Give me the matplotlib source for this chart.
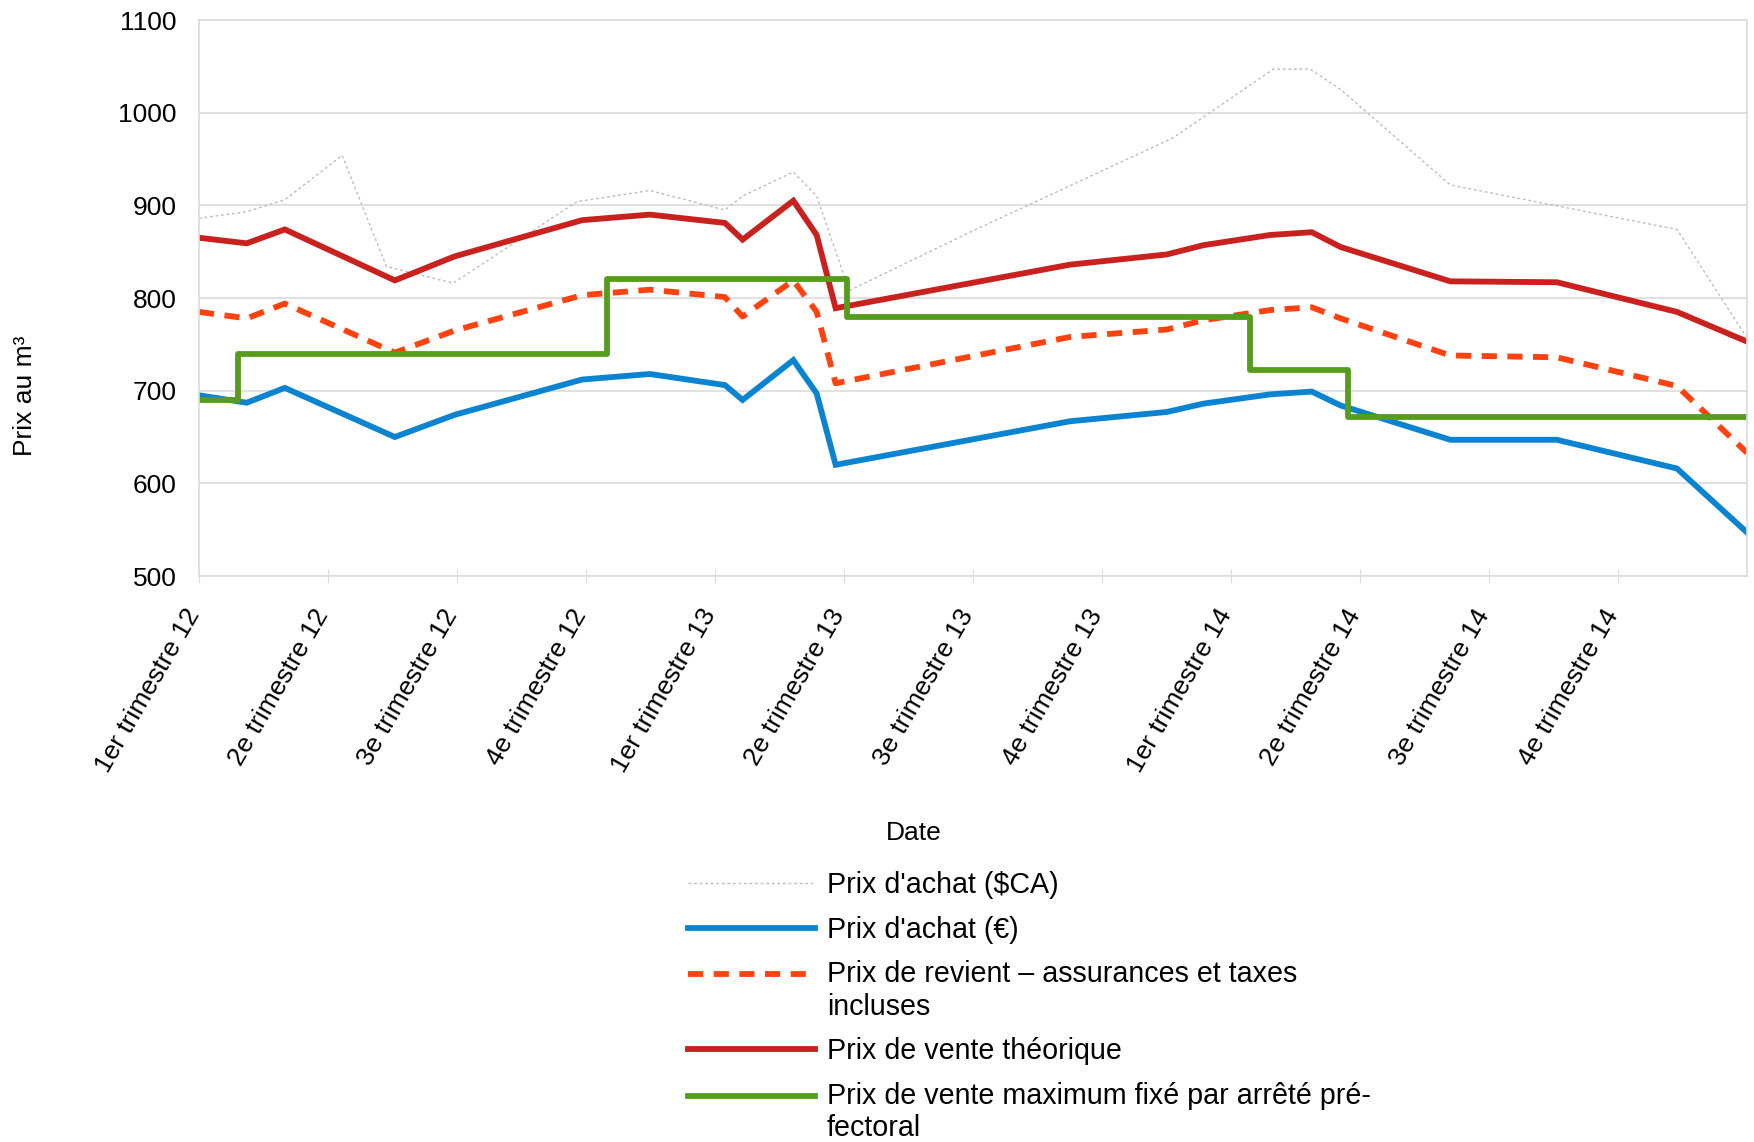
import numpy as np
import matplotlib
matplotlib.use("Agg")
import matplotlib.pyplot as plt
from matplotlib.legend_handler import HandlerLine2D
from matplotlib.transforms import ScaledTranslation

plt.rcParams["font.family"] = ["Liberation Sans", "DejaVu Sans"]

# x positions in quarters since 1er trimestre 12
quarter_labels = ["1er trimestre 12", "2e trimestre 12", "3e trimestre 12", "4e trimestre 12",
                  "1er trimestre 13", "2e trimestre 13", "3e trimestre 13", "4e trimestre 13",
                  "1er trimestre 14", "2e trimestre 14", "3e trimestre 14", "4e trimestre 14"]

x_main = [0, 0.37, 0.665, 1.518, 1.983, 2.97, 3.495, 4.077, 4.214, 4.607, 4.788, 4.935,
          6.753, 7.502, 7.786, 8.303, 8.626, 8.85, 9.7, 10.526, 11.457, 12]
achat_eur = [695, 687, 703, 650, 674, 712, 718, 706, 690, 733, 697, 620,
             667, 677, 686, 696, 699, 684, 647, 647, 616, 547]
revient = [785, 778, 794, 741, 765, 803, 809, 801, 780, 819, 785, 708,
           758, 766, 776, 787, 790, 778, 738, 736, 705, 633]
vente_theo = [865, 859, 874, 819, 845, 884, 890, 881, 863, 905, 868, 789,
              836, 847, 857, 868, 871, 855, 818, 817, 785, 753]

x_cad = [0, 0.367, 0.665, 1.11, 1.453, 1.97, 2.93, 3.495, 4.077, 4.214, 4.607, 4.788,
         5.04, 5.977, 7.553, 8.329, 8.613, 8.85, 9.7, 11.457, 12]
achat_cad = [886, 893, 906, 954, 834, 816, 904, 916, 895, 910, 936, 910,
             808, 871, 973, 1047, 1047, 1025, 922, 874, 757]

x_max = [0, 0.302, 3.159, 5.02, 8.148, 8.91, 12]
vente_max = [690, 740, 820, 780, 722, 672, 672]

labels = ["Prix d'achat ($CA)", "Prix d'achat (€)",
          "Prix de revient – assurances et taxes\nincluses",
          "Prix de vente théorique",
          "Prix de vente maximum fixé par arrêté pré-\nfectoral"]


class FirstLineHandler(HandlerLine2D):
    # put the legend key beside the first line of a two-line label
    def create_artists(self, legend, orig_handle, xdescent, ydescent, width, height, fontsize, trans):
        arts = super().create_artists(legend, orig_handle, xdescent, ydescent, width, height, fontsize, trans)
        for a in arts:
            a.set_ydata(np.asarray(a.get_ydata()) + 0.6 * fontsize)
        return arts


fig = plt.figure(figsize=(17.54, 11.42), dpi=100)
ax = fig.add_axes([199 / 1754, 1 - 576 / 1142, (1747 - 199) / 1754, 556 / 1142])

grid_c = "#dcdcdc"
l_cad, = ax.plot(x_cad, achat_cad, color="#bdbdbd", lw=1.0, dashes=(2, 2), label=labels[0])
l_eur, = ax.plot(x_main, achat_eur, color="#0a84d0", lw=4.2, solid_joinstyle="miter", label=labels[1])
l_rev, = ax.plot(x_main, revient, color="#ff420e", lw=4.2, dashes=(2.6, 1.8), label=labels[2])
l_theo, = ax.plot(x_main, vente_theo, color="#c9211e", lw=4.2, solid_joinstyle="miter", label=labels[3])
l_max, = ax.plot(x_max, vente_max, color="#579d1c", lw=4.2, drawstyle="steps-post", label=labels[4])

ax.set_xlim(0, 12)
ax.set_ylim(500, 1100)
ax.set_yticks(range(500, 1101, 100))
ax.yaxis.grid(True, color=grid_c, lw=1.2)
ax.set_axisbelow(True)
for s in ax.spines.values():
    s.set_color(grid_c)
    s.set_linewidth(1.2)

ax.set_xticks(range(12))
ax.set_xticklabels(quarter_labels, rotation=60, ha="right", va="center", rotation_mode="anchor")
ax.tick_params(axis="x", direction="inout", length=10, color=grid_c, labelsize=19, pad=20)
ax.tick_params(axis="y", length=0, labelsize=19, pad=16)
shift = ScaledTranslation(-0.05, 0, fig.dpi_scale_trans)
for lab in ax.get_xticklabels():
    lab.set_transform(lab.get_transform() + shift)

ax.set_xlabel("Date", fontsize=19)
ax.xaxis.set_label_coords((914 - 199) / 1548, -(821 - 576) / 556)
fig.text(25 / 1754, 1 - 396 / 1142, "Prix au m³", rotation=90, fontsize=19, ha="center", va="center")

leg = fig.legend([l_cad, l_eur, l_rev, l_theo, l_max], labels,
                 loc="upper left", bbox_to_anchor=(688 / 1754, 1 - 871 / 1142),
                 frameon=False, fontsize=20.6, handlelength=4.45, handletextpad=0.4,
                 labelspacing=0.58, borderpad=0, borderaxespad=0,
                 handler_map={l_rev: FirstLineHandler(), l_max: FirstLineHandler()})

fig.savefig("out.png", dpi=100, facecolor="white")
